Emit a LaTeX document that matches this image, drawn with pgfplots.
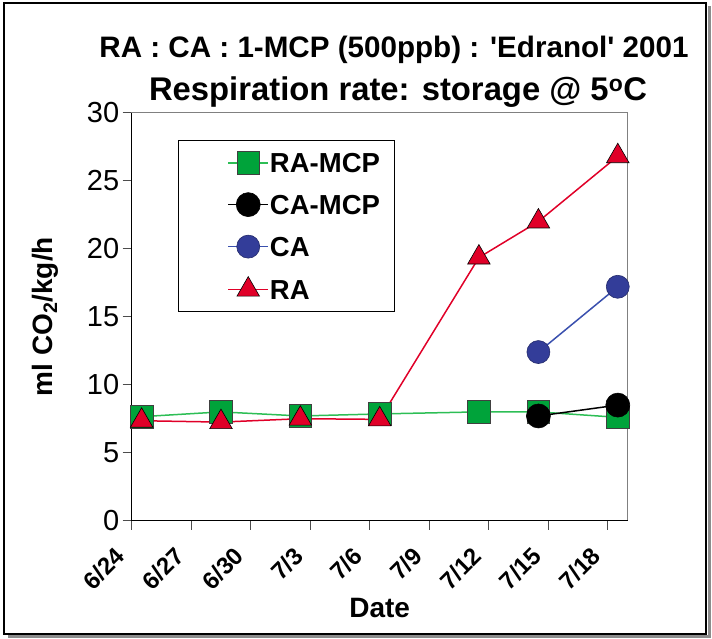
\documentclass[border=0pt]{standalone}
\usepackage{pgfplots}
\pgfplotsset{compat=1.18}
\usepackage{fontspec}
\setmainfont{Liberation Sans}

\definecolor{mcpgreen}{RGB}{0,163,58}
\definecolor{mcpgreenline}{RGB}{45,190,85}
\definecolor{rared}{RGB}{224,0,40}
\definecolor{cablue}{RGB}{51,61,153}
\definecolor{cabline}{RGB}{58,80,174}

\begin{document}
\begin{tikzpicture}[x=1pt,y=1pt]
\useasboundingbox (0,0) rectangle (712,639);
% frame of the whole chart
\draw[black!45, line width=2.5pt] (8,2.5) -- (709.5,2.5) -- (709.5,633);
\draw[black, line width=1.2pt] (4,5) rectangle (706,636);

% titles
\node[font=\bfseries\fontsize{29.6}{32}\selectfont] at (394,589)
  {RA : CA : 1-MCP (500ppb) : \textquotesingle Edranol\textquotesingle\ 2001};
\node[font=\bfseries\fontsize{32.8}{35}\selectfont] at (398,547)
  {Respiration rate: storage @ 5\textsuperscript{o}C};

\begin{axis}[
  at={(131.7pt,118.3pt)}, anchor=south west,
  scale only axis, width=496pt, height=408pt,
  xmin=0, xmax=25, ymin=0, ymax=30,
  clip=false,
  axis line style={draw=black!50, line width=0.8pt},
  tick pos=left, tick align=outside,
  major tick length=9pt,
  tick style={black!70, line width=0.8pt},
  xtick={0,3,...,24},
  xticklabels={6/24,6/27,6/30,7/3,7/6,7/9,7/12,7/15,7/18},
  xticklabel shift=11pt,
  xticklabel style={rotate=45, anchor=north east, xshift=-12.7pt, yshift=12.7pt,
    font=\bfseries\fontsize{24}{26}\selectfont},
  ytick={0,5,...,30},
  yticklabel style={font=\fontsize{29}{31}\selectfont, /pgf/number format/assume math mode=true},
  xlabel={Date},
  xlabel style={at={(axis description cs:0.5,0)}, anchor=center, yshift=-87pt, font=\bfseries\fontsize{28}{30}\selectfont},
  ylabel={ml CO\textsubscript{2}/kg/h},
  ylabel style={at={(axis description cs:-0.175,0.5)}, anchor=center, font=\bfseries\fontsize{28}{30}\selectfont},
  legend cell align=left,
  legend image code/.code={
    \path (-35pt,0pt);
    \draw[mark repeat=2,mark phase=2] plot coordinates {(0pt,0pt) (20pt,0pt) (40pt,0pt)};
  },
  legend style={at={(axis description cs:0.0933,0.933)}, anchor=north west,
    draw=black, line width=1pt, inner xsep=14pt, inner ysep=11pt,
    font=\bfseries\fontsize{27.5}{30}\selectfont,
    nodes={inner sep=1pt, text height=20pt, text depth=0pt},
    row sep=18.5pt, /tikz/every even column/.append style={column sep=7pt}},
]
\addplot[mcpgreenline, line width=1.5pt, mark=square*, mark size=11.3pt,
  mark options={fill=mcpgreen, draw=black!75, line width=0.6pt}]
  coordinates {(0.5,7.65) (4.5,8.0) (8.5,7.7) (12.5,7.85) (17.5,8.0) (20.5,8.0) (24.5,7.6)};
\addlegendentry{RA-MCP}
\addplot[black, line width=1.5pt, mark=*, mark size=12pt,
  mark options={fill=black, draw=black, line width=0.6pt}]
  coordinates {(20.5,7.7) (24.5,8.5)};
\addlegendentry{CA-MCP}
\addplot[cabline, line width=1.5pt, mark=*, mark size=11.5pt,
  mark options={fill=cablue, draw=cablue!70!black, line width=0.6pt}]
  coordinates {(20.5,12.4) (24.5,17.2)};
\addlegendentry{CA}
\addplot[rared, line width=1.5pt, mark=triangle*, mark size=13pt,
  mark options={fill=rared, draw=black, line width=0.6pt}]
  coordinates {(0.5,7.35) (4.5,7.25) (8.5,7.5) (12.5,7.45) (17.5,19.35) (20.5,22.0) (24.5,26.8)};
\addlegendentry{RA}
\draw[black, line width=1pt] (rel axis cs:0,1) -- (rel axis cs:0,0) -- (rel axis cs:1,0);
\end{axis}
\end{tikzpicture}
\end{document}
